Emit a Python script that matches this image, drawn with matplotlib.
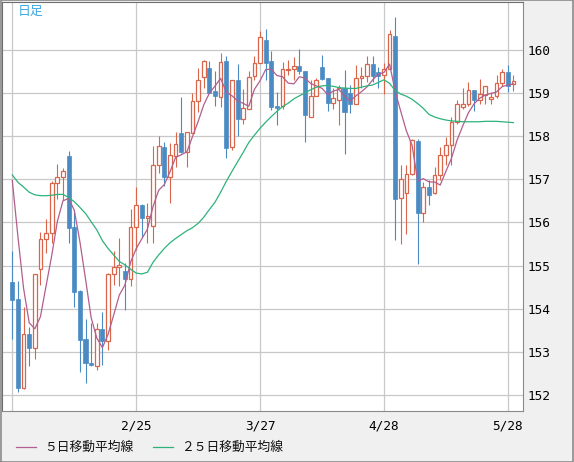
import numpy as np
import pandas as pd
import matplotlib
matplotlib.use("Agg")
import matplotlib.pyplot as plt
from matplotlib.lines import Line2D

# daily candles (oldest first)
opens = [154.62, 154.23, 152.18, 153.42, 153.10, 154.92, 155.61, 155.75, 156.91, 157.05,
         157.54, 155.90, 154.41, 153.30, 152.74, 152.69, 153.53, 153.27, 154.82, 154.96,
         154.87, 154.70, 155.89, 156.40, 156.10, 155.93, 157.33, 157.75, 157.06, 157.54,
         158.06, 157.62, 158.08, 158.82, 159.36, 159.57, 159.04, 158.91, 159.74, 157.75,
         159.30, 158.39, 158.62, 159.39, 159.69, 160.22, 159.73, 158.69, 158.69, 159.52,
         159.54, 159.61, 159.50, 158.44, 158.93, 159.60, 159.34, 158.77, 158.83, 159.10,
         159.00, 158.73, 159.35, 159.38, 159.66, 159.48, 159.41, 159.56, 160.32, 156.57,
         156.68, 157.13, 157.89, 156.22, 156.82, 156.68, 157.11, 157.55, 157.80, 158.33,
         158.66, 158.74, 159.06, 158.84, 158.94, 158.86, 158.92, 159.23, 159.47, 159.21]
highs = [155.34, 154.65, 154.05, 153.59, 154.82, 155.79, 156.08, 156.97, 157.35, 157.25,
         157.66, 156.29, 154.43, 153.77, 153.67, 153.67, 153.94, 154.84, 155.33, 155.63,
         155.06, 156.31, 156.81, 156.43, 156.45, 157.76, 157.99, 157.87, 157.83, 158.10,
         158.91, 158.10, 158.99, 159.57, 159.75, 159.74, 159.51, 159.92, 159.85, 159.30,
         159.67, 159.09, 159.51, 159.85, 160.42, 160.47, 159.96, 159.02, 159.71, 159.77,
         159.83, 160.02, 159.50, 159.29, 159.35, 159.87, 159.34, 159.10, 159.17, 159.52,
         159.19, 159.64, 159.60, 159.85, 159.85, 159.60, 159.68, 160.45, 160.75, 157.32,
         157.32, 157.94, 157.94, 156.94, 156.98, 157.28, 157.75, 157.98, 158.44, 158.84,
         159.10, 159.25, 159.06, 159.33, 159.15, 159.02, 159.40, 159.56, 159.64, 159.42]
lows = [153.30, 152.09, 152.15, 152.69, 152.85, 154.55, 155.30, 155.52, 156.54, 156.52,
        155.52, 154.05, 152.55, 152.28, 152.68, 152.59, 152.70, 153.06, 154.55, 154.52,
        153.98, 154.52, 155.36, 155.67, 155.53, 155.52, 157.15, 156.85, 156.45, 157.29,
        157.60, 157.29, 158.08, 158.56, 159.11, 158.99, 158.70, 158.68, 157.50, 157.68,
        158.00, 158.27, 158.62, 159.30, 159.69, 159.30, 158.61, 158.26, 158.63, 159.41,
        159.29, 159.44, 157.86, 158.44, 158.93, 159.29, 158.57, 158.62, 158.25, 157.59,
        158.53, 158.73, 159.10, 159.25, 159.25, 159.10, 158.97, 159.55, 155.59, 155.51,
        155.74, 157.10, 155.05, 156.01, 156.40, 156.67, 156.99, 157.32, 157.32, 158.27,
        158.63, 158.69, 158.58, 158.75, 158.73, 158.73, 158.89, 159.15, 159.02, 159.05]
closes = [154.21, 152.18, 153.42, 153.10, 154.80, 155.61, 155.75, 156.91, 157.05, 157.19,
          155.88, 154.40, 153.28, 152.74, 152.70, 153.53, 153.27, 154.82, 154.96, 155.02,
          154.70, 155.89, 156.40, 156.10, 156.14, 157.33, 157.76, 157.06, 157.56, 157.81,
          157.64, 158.10, 158.82, 159.30, 159.74, 158.99, 158.93, 159.71, 157.73, 159.30,
          158.40, 158.64, 159.37, 159.69, 160.29, 159.70, 158.67, 158.65, 159.54, 159.56,
          159.61, 159.50, 158.48, 158.92, 159.29, 159.33, 158.77, 158.89, 159.10, 158.56,
          158.73, 159.35, 159.38, 159.66, 159.38, 159.38, 159.54, 160.35, 156.54, 157.01,
          157.13, 157.90, 156.22, 156.81, 156.64, 157.11, 157.55, 157.80, 158.33, 158.75,
          158.74, 159.06, 158.84, 158.97, 159.15, 158.90, 159.23, 159.47, 159.15, 159.27]

# first 4 values of the 5-day average (earlier closes are off the chart)
ma5_head = [156.97, 155.67, 154.48, 153.68]
# 25-day average
ma25 = [157.10, 156.93, 156.82, 156.70, 156.64, 156.62, 156.62, 156.63, 156.65, 156.65,
        156.58, 156.48, 156.35, 156.21, 156.02, 155.83, 155.58, 155.40, 155.25, 155.10,
        155.02, 154.92, 154.83, 154.81, 154.85, 155.08, 155.25, 155.40, 155.53, 155.63,
        155.72, 155.81, 155.88, 155.98, 156.12, 156.30, 156.47, 156.70, 156.95, 157.18,
        157.40, 157.62, 157.85, 158.02, 158.18, 158.32, 158.45, 158.57, 158.68, 158.76,
        158.86, 158.93, 159.00, 159.07, 159.13, 159.16, 159.17, 159.15, 159.12, 159.11,
        159.10, 159.10, 159.13, 159.16, 159.18, 159.24, 159.30, 159.22, 159.05, 158.97,
        158.92, 158.85, 158.75, 158.64, 158.50, 158.44, 158.40, 158.37, 158.35, 158.34,
        158.33, 158.33, 158.33, 158.33, 158.34, 158.34, 158.34, 158.33, 158.32, 158.31]

tick_pos = [0, 22, 44, 66, 88]
tick_labels = ["", "2/25", "3/27", "4/28", "5/28"]

UP = "#d9654a"
DOWN = "#4a8bc4"
PINK = "#b25e8e"
GREEN = "#2db37a"

df = pd.DataFrame({"open": opens, "high": highs, "low": lows, "close": closes})
df["ma5"] = df["close"].rolling(5).mean()
df.loc[:3, "ma5"] = ma5_head
df["ma25"] = ma25
x = np.arange(len(df))
up = df["close"] >= df["open"]

W, H = 574, 462
fig = plt.figure(figsize=(W / 100, H / 100), dpi=100, facecolor="#f0f0f0")
ax = fig.add_axes([2 / W, 1 - 411 / H, 521 / W, 409 / H])
ax.set_facecolor("white")

# wicks
ax.vlines(x[up], df["low"][up], df["high"][up], color=UP, lw=0.8, zorder=2)
ax.vlines(x[~up], df["low"][~up], df["high"][~up], color=DOWN, lw=0.8, zorder=2)
# bodies
hgt = (df["close"] - df["open"]).abs().clip(lower=0.02)
bot = df[["open", "close"]].min(axis=1)
ax.bar(x[up], hgt[up], bottom=bot[up], width=0.66, facecolor="white",
       edgecolor=UP, linewidth=0.9, zorder=3)
ax.bar(x[~up], hgt[~up], bottom=bot[~up], width=0.72, facecolor=DOWN,
       edgecolor=DOWN, linewidth=0.5, zorder=3)

ax.plot(x, df["ma5"], color=PINK, lw=0.9, zorder=4)
ax.plot(x, df["ma25"], color=GREEN, lw=0.9, zorder=4)

ax.set_xlim(-1.83, 90.7)
ax.set_ylim(151.64, 161.10)
ax.set_yticks(range(152, 161))
ax.yaxis.tick_right()
ax.set_xticks(tick_pos)
ax.set_xticklabels(tick_labels)
ax.tick_params(length=0, labelsize=9.2, colors="black")
ax.tick_params(axis="y", pad=3)
ax.tick_params(axis="x", pad=6)
for lab in ax.get_xticklabels() + ax.get_yticklabels():
    lab.set_family("DejaVu Sans Mono")
ax.grid(True, color="#c8c8c8", lw=0.9, zorder=0)
ax.set_axisbelow(True)
for s in ["right", "bottom"]:
    ax.spines[s].set_color("#8a8a8a")
for s in ["left", "top"]:
    ax.spines[s].set_color("#6e6e6e")

ax.text(15.5 / 521, 1 - 9 / 409, "日足", transform=ax.transAxes, color="#3fa9e0",
        fontsize=9.3, family=["Noto Sans CJK JP"], va="center", ha="left")

# legend along the bottom
def fx(px):
    return px / W

def fy(py):
    return 1 - py / H

fig.lines.append(Line2D([fx(16), fx(36)], [fy(447), fy(447)], color=PINK, lw=0.9,
                        transform=fig.transFigure))
fig.text(fx(44), fy(447), "５日移動平均線", fontsize=9.2, family=["Noto Sans CJK JP"],
         va="center", ha="left", color="#111111")
fig.lines.append(Line2D([fx(153), fx(173)], [fy(447), fy(447)], color=GREEN, lw=0.9,
                        transform=fig.transFigure))
fig.text(fx(181), fy(447), "２５日移動平均線", fontsize=9.2, family=["Noto Sans CJK JP"],
         va="center", ha="left", color="#111111")

# outer frame
fig.lines.append(Line2D([0.001, 0.001, 0.999, 0.999, 0.001], [0.001, 0.999, 0.999, 0.001, 0.001],
                        color="#8a8a8a", lw=1.2, transform=fig.transFigure))

fig.savefig("out.png", dpi=100, facecolor=fig.get_facecolor())
